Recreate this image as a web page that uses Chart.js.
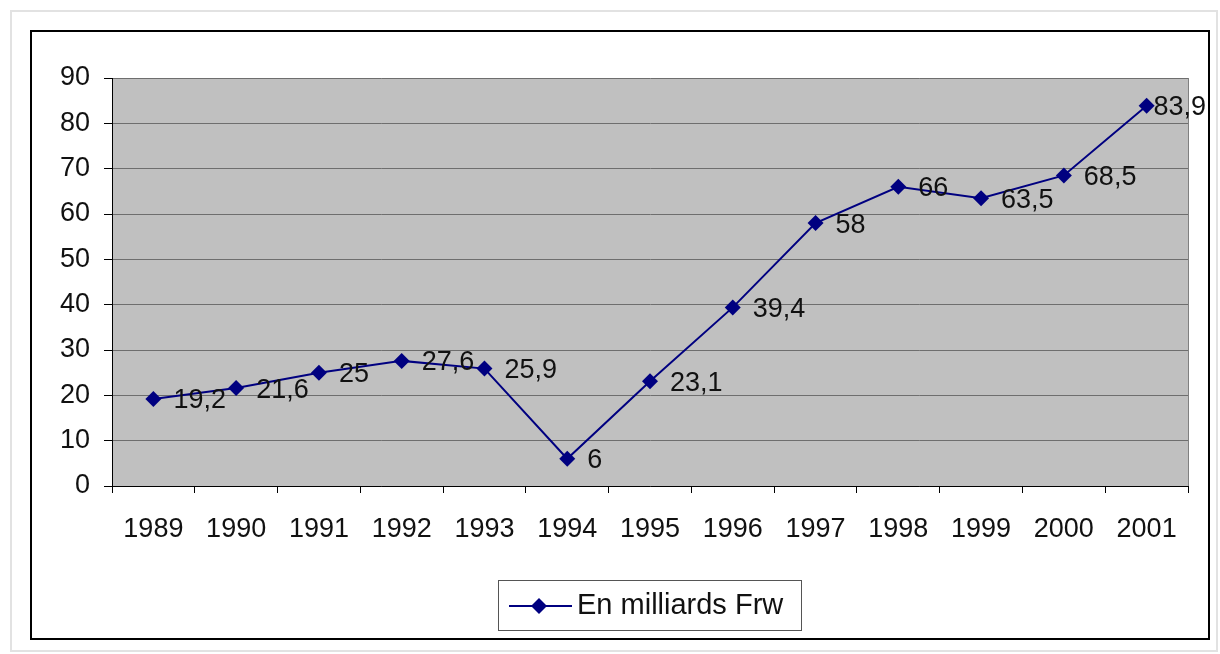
<!DOCTYPE html>
<html><head><meta charset="utf-8">
<script src="https://cdn.jsdelivr.net/npm/chart.js@4.4.1/dist/chart.umd.min.js"></script>
<style>html,body{margin:0;padding:0;background:#fff}#wrap{width:1220px;height:654px}</style>
</head><body><div id="wrap"><canvas id="c" width="1220" height="654"></canvas></div>
<script>
const years = ["1989","1990","1991","1992","1993","1994","1995","1996","1997","1998","1999","2000","2001"];
const values = [19.2, 21.6, 25, 27.6, 25.9, 6, 23.1, 39.4, 58, 66, 63.5, 68.5, 83.9];
const seriesName = "En milliards Frw";
const yTicks = [0,10,20,30,40,50,60,70,80,90];

const FONT = "Liberation Sans, Arial, sans-serif";
const NAVY = "#000080";

const deco = {
  id: 'deco',
  beforeDraw(chart) {
    const ctx = chart.ctx, a = chart.chartArea;
    ctx.save();
    ctx.fillStyle = '#fff';
    ctx.fillRect(0,0,chart.width,chart.height);
    ctx.strokeStyle = '#e2e2e2'; ctx.lineWidth = 2;
    ctx.strokeRect(11, 11, 1206, 640);
    ctx.strokeStyle = '#000'; ctx.lineWidth = 2;
    ctx.strokeRect(31, 31, 1178, 608);
    ctx.fillStyle = '#c0c0c0';
    ctx.fillRect(a.left, a.top, a.right - a.left, a.bottom - a.top);
    ctx.restore();
  },
  afterDraw(chart) {
    const ctx = chart.ctx, a = chart.chartArea;
    ctx.save();
    ctx.strokeStyle = '#808080'; ctx.lineWidth = 1;
    ctx.beginPath(); ctx.moveTo(a.right + 0.5, a.top); ctx.lineTo(a.right + 0.5, a.bottom); ctx.stroke();
    // data labels
    const meta = chart.getDatasetMeta(0);
    ctx.font = '27px ' + FONT;
    ctx.fillStyle = '#111';
    ctx.textBaseline = 'middle';
    meta.data.forEach((pt, i) => {
      const txt = String(values[i]).replace('.', ',');
      const w = ctx.measureText(txt).width;
      let x = pt.x + 20;
      if (x + w > 1206) x = 1206 - w;
      ctx.fillText(txt, x, pt.y + 2);
    });
    // legend
    const lx = 498, ly = 580, lw = 303, lh = 50;
    ctx.strokeStyle = '#555'; ctx.lineWidth = 1;
    ctx.strokeRect(lx + 0.5, ly + 0.5, lw, lh);
    const cy = ly + lh/2 + 1;
    ctx.strokeStyle = NAVY; ctx.lineWidth = 2;
    ctx.beginPath(); ctx.moveTo(509, cy); ctx.lineTo(572, cy); ctx.stroke();
    ctx.fillStyle = NAVY;
    ctx.beginPath(); ctx.moveTo(539, cy - 8); ctx.lineTo(547, cy); ctx.lineTo(539, cy + 8); ctx.lineTo(531, cy); ctx.closePath(); ctx.fill();
    ctx.fillStyle = '#111';
    ctx.font = '29px ' + FONT;
    ctx.textBaseline = 'middle';
    ctx.fillText(seriesName, 577, cy);
    ctx.restore();
  }
};

new Chart(document.getElementById('c'), {
  type: 'line',
  data: {
    labels: years,
    datasets: [{
      label: seriesName,
      data: values,
      borderColor: NAVY,
      backgroundColor: NAVY,
      borderWidth: 2,
      pointStyle: 'rectRot',
      pointRadius: 8,
      pointBorderWidth: 0,
      tension: 0
    }]
  },
  options: {
    responsive: false,
    animation: false,
    layout: { padding: { left: 30, right: 32, top: 78, bottom: 100 } },
    plugins: { legend: { display: false }, tooltip: { enabled: false } },
    scales: {
      x: {
        type: 'category',
        offset: true,
        grid: { offset: true, drawOnChartArea: false, drawTicks: true, tickLength: 7, tickColor: '#000', lineWidth: 1 },
        border: { color: '#000', width: 1 },
        ticks: { color: '#111', font: { family: FONT, size: 27 }, padding: 20, maxRotation: 0, autoSkip: false },
        afterFit(s) { s.height = 68; }
      },
      y: {
        min: 0, max: 90,
        afterBuildTicks(s) { s.ticks = yTicks.map(v => ({ value: v })); },
        grid: { color: '#6e6e6e', lineWidth: 1, drawTicks: true, tickLength: 8, tickColor: '#000' },
        border: { color: '#000', width: 1 },
        ticks: { color: '#111', font: { family: FONT, size: 27 }, padding: 14 },
        afterFit(s) { s.width = 82; }
      }
    }
  },
  plugins: [deco]
});
</script>
</body></html>
